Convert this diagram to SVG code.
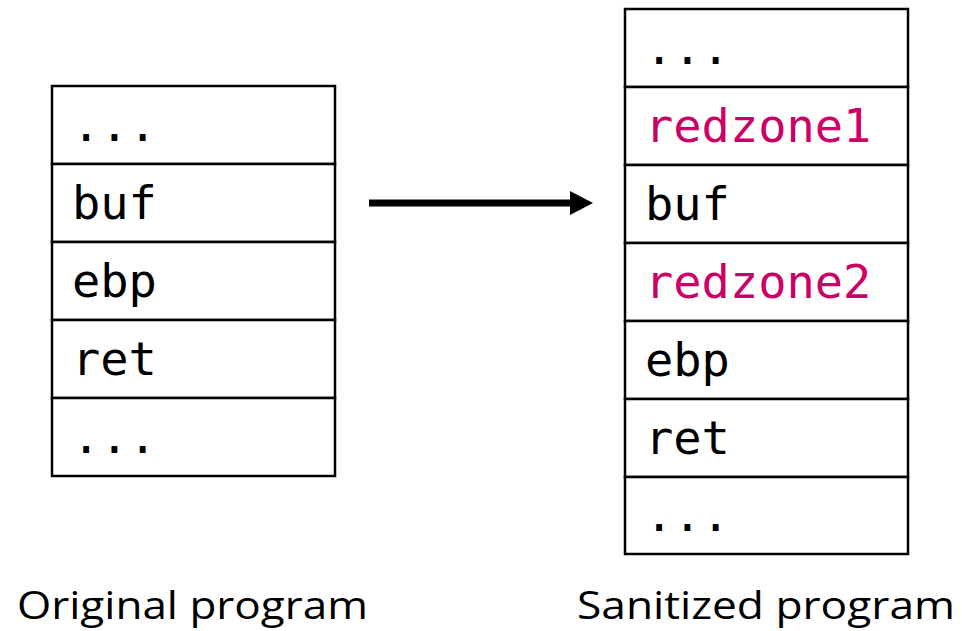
<svg xmlns="http://www.w3.org/2000/svg" width="962" height="631" viewBox="0 0 962 631">
  <style>
    .cell { fill: #ffffff; stroke: #000000; stroke-width: 2.5; }
    .mono { font-family: "DejaVu Sans Mono", monospace; font-size: 47px; fill: #000000; }
    .red { fill: #cc0066; }
    .caption { font-family: "Open Sans", "Liberation Sans", sans-serif; font-size: 39px; fill: #000000; }
  </style>
  <defs>
    <marker id="head" markerUnits="userSpaceOnUse" markerWidth="24" markerHeight="24" refX="0" refY="12" orient="auto">
      <path d="M0,0 L23,12 L0,24 Z" fill="#000000"/>
    </marker>
  </defs>

  <!-- Original stack frame -->
  <g id="original">
    <rect class="cell" x="52" y="86" width="283" height="78"/>
    <rect class="cell" x="52" y="164" width="283" height="78"/>
    <rect class="cell" x="52" y="242" width="283" height="78"/>
    <rect class="cell" x="52" y="320" width="283" height="78"/>
    <rect class="cell" x="52" y="398" width="283" height="78"/>
    <text class="mono" x="72" y="141">...</text>
    <text class="mono" x="72" y="219">buf</text>
    <text class="mono" x="72" y="297">ebp</text>
    <text class="mono" x="72" y="375">ret</text>
    <text class="mono" x="72" y="453">...</text>
  </g>

  <!-- Sanitized stack frame with redzones -->
  <g id="sanitized">
    <rect class="cell" x="625" y="9" width="283" height="78"/>
    <rect class="cell" x="625" y="87" width="283" height="78"/>
    <rect class="cell" x="625" y="165" width="283" height="78"/>
    <rect class="cell" x="625" y="243" width="283" height="78"/>
    <rect class="cell" x="625" y="321" width="283" height="78"/>
    <rect class="cell" x="625" y="399" width="283" height="78"/>
    <rect class="cell" x="625" y="477" width="283" height="77"/>
    <text class="mono" x="645" y="64">...</text>
    <text class="mono red" x="645" y="142">redzone1</text>
    <text class="mono" x="645" y="220">buf</text>
    <text class="mono red" x="645" y="298">redzone2</text>
    <text class="mono" x="645" y="376">ebp</text>
    <text class="mono" x="645" y="454">ret</text>
    <text class="mono" x="645" y="531">...</text>
  </g>

  <g id="connectors">
    <line x1="369" y1="203" x2="570" y2="203" stroke="#000000" stroke-width="7" marker-end="url(#head)"/>
  </g>

  <g id="captions">
    <text class="caption" x="17" y="619" textLength="351" lengthAdjust="spacingAndGlyphs">Original program</text>
    <text class="caption" x="577" y="619" textLength="378" lengthAdjust="spacingAndGlyphs">Sanitized program</text>
  </g>
</svg>
